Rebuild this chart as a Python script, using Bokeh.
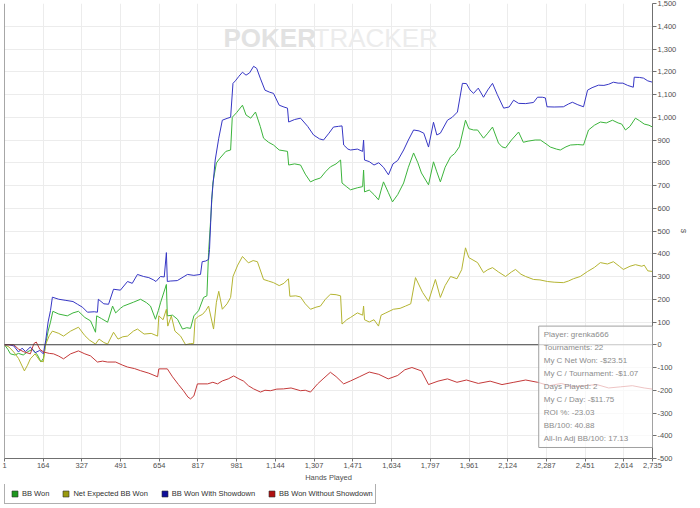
from bokeh.plotting import figure
from bokeh.layouts import column
from bokeh.models import (Range1d, FixedTicker, NumeralTickFormatter, Span,
                          Legend, LegendItem, Label)
from bokeh.embed import file_html
from bokeh.resources import INLINE

# ---------------- data ----------------
x_ticks = [1, 164, 327, 491, 654, 817, 981, 1144, 1307, 1471, 1634, 1797, 1961, 2124,
           2287, 2451, 2614, 2735]
y_ticks = list(range(-500, 1501, 100))

series_names = ["BB Won", "Net Expected BB Won", "BB Won With Showdown", "BB Won Without Showdown"]

blue_hands = [1, 20, 40, 60, 75, 90, 110, 130, 150, 165, 175, 185, 195, 203, 230, 260, 290, 309, 330,
              351, 380, 393, 397, 420, 440, 461, 490, 520, 540, 562, 588, 610, 630, 640, 659, 675, 684,
              688, 700, 730, 773, 800, 828, 835, 850, 862, 866, 875, 890, 905, 920, 940, 955, 965, 975,
              990, 1005, 1020, 1035, 1052, 1065, 1080, 1100, 1120, 1136, 1160, 1180, 1195, 1200, 1225,
              1250, 1280, 1305, 1330, 1347, 1370, 1389, 1410, 1425, 1432, 1450, 1461, 1490, 1512, 1516,
              1520, 1540, 1560, 1580, 1600, 1621, 1640, 1660, 1685, 1705, 1727, 1750, 1770, 1790, 1811,
              1825, 1840, 1870, 1890, 1912, 1933, 1950, 1965, 1980, 2000, 2022, 2040, 2060, 2080, 2107,
              2130, 2149, 2170, 2200, 2233, 2250, 2270, 2283, 2290, 2320, 2359, 2380, 2397, 2420, 2444,
              2461, 2480, 2507, 2530, 2550, 2570, 2590, 2610, 2630, 2654, 2658, 2680, 2697, 2715, 2735]
blue_vals = [0, 0, -5, -32, -15, -30, -10, -35, -25, -40, 20, 100, 150, 209, 200, 195, 190, 178, 165,
             143, 145, 143, 200, 180, 178, 244, 240, 278, 270, 309, 300, 295, 285, 278, 300, 298, 405,
             278, 280, 282, 309, 305, 309, 365, 368, 375, 419, 637, 812, 908, 987, 995, 1000, 1149, 1160,
             1180, 1198, 1185, 1195, 1224, 1215, 1172, 1119, 1110, 1105, 1053, 1045, 1040, 979, 990,
             996, 960, 922, 905, 900, 930, 957, 960, 962, 878, 860, 856, 860, 850, 900,
             812, 805, 790, 800, 780, 747, 795, 810, 856, 900, 944, 940, 930, 869, 978,
             922, 930, 987, 1000, 1023, 1149, 1148, 1120, 1105, 1128, 1088, 1120, 1149, 1100, 1040,
             1045, 1075, 1061, 1060, 1065, 1088, 1088, 1085, 1046, 1045, 1046, 1058, 1066, 1055, 1046,
             1119, 1130, 1141, 1140, 1145, 1154, 1150, 1150, 1140, 1132, 1176, 1175, 1172, 1160, 1154]

green_hands = [1, 15, 26, 45, 60, 80, 100, 120, 140, 155, 165, 174, 185, 195, 205, 230, 266, 290, 313,
               340, 364, 385, 390, 410, 436, 457, 470, 490, 503, 545, 575, 600, 617, 638, 650, 660, 684,
               688, 710, 731, 752, 770, 786, 800, 820, 841, 855, 862, 870, 880, 895, 910, 935, 955, 962,
               980, 1005, 1020, 1040, 1060, 1080, 1094, 1115, 1136, 1160, 1195, 1200, 1225, 1250, 1270,
               1292, 1310, 1334, 1355, 1376, 1400, 1419, 1425, 1445, 1461, 1490, 1512, 1516, 1520, 1540,
               1560, 1579, 1590, 1600, 1620, 1638, 1660, 1685, 1705, 1727, 1745, 1760, 1790, 1811, 1825,
               1840, 1860, 1883, 1900, 1920, 1946, 1960, 1980, 1997, 2022, 2040, 2060, 2085, 2100, 2115,
               2140, 2170, 2190, 2210, 2240, 2262, 2290, 2304, 2330, 2346, 2370, 2389, 2420, 2444, 2465,
               2490, 2515, 2540, 2566, 2590, 2605, 2621, 2640, 2663, 2680, 2700, 2720, 2735]
green_vals = [0, -20, -40, -45, -38, -45, -30, -20, -45, -76, -60, 0, 60, 99, 147, 135, 127, 140, 147,
              120, 105, 55, 127, 115, 99, 170, 140, 160, 170, 187, 200, 185, 170, 112, 150, 187, 265,
              127, 130, 112, 69, 75, 72, 127, 150, 208, 215, 405, 536, 711, 799, 820, 850, 856, 1000,
              1020, 1053, 1010, 996, 1023, 960, 908, 890, 878, 856, 850, 790, 795, 790, 750,
              716, 725, 733, 760, 782, 795, 812, 711, 694, 681, 690, 695, 768, 672, 680,
              660, 637, 680, 716, 670, 628, 660, 711, 780, 843, 800, 755, 703, 804, 760,
              716, 780, 826, 840, 870, 987, 950, 944, 944, 908, 930, 957, 887, 870, 865,
              900, 935, 890, 895, 900, 900, 880, 869, 860, 856, 870, 878, 880, 878, 944,
              965, 979, 975, 987, 975, 970, 944, 960, 996, 985, 970, 965, 957]

yellow_hands = [1, 20, 40, 60, 85, 98, 110, 130, 150, 165, 174, 190, 203, 230, 250, 280, 313, 340, 360,
                385, 400, 420, 436, 461, 480, 500, 520, 545, 562, 590, 620, 647, 652, 670, 684, 690, 705,
                720, 744, 765, 785, 799, 805, 820, 837, 850, 862, 883, 895, 905, 920, 940, 955, 965, 985,
                1005, 1030, 1050, 1068, 1094, 1115, 1136, 1160, 1180, 1199, 1205, 1230, 1250, 1270, 1292,
                1315, 1334, 1355, 1376, 1400, 1419, 1425, 1445, 1461, 1490, 1512, 1516, 1520, 1540, 1560,
                1579, 1590, 1610, 1642, 1670, 1693, 1715, 1735, 1765, 1790, 1819, 1840, 1860, 1883, 1910,
                1930, 1946, 1960, 1997, 2022, 2040, 2060, 2085, 2115, 2140, 2157, 2180, 2200, 2233, 2260,
                2292, 2320, 2359, 2380, 2401, 2430, 2461, 2490, 2515, 2545, 2570, 2595, 2612, 2640, 2663,
                2690, 2700, 2715, 2735]
yellow_vals = [0, -10, -32, -60, -115, -90, -62, -40, -70, -75, 0, 40, 60, 50, 38, 60, 77, 40, 20,
               3, 25, 10, 3, 55, 25, 35, 38, 60, 69, 47, 50, 38, 127, 110, 156, 82, 127,
               60, 38, 0, 5, 5, 112, 125, 134, 150, 170, 69, 187, 235, 156, 180, 208, 300, 350,
               388, 360, 370, 365, 287, 280, 273, 260, 270, 290, 213, 215, 210, 180, 156,
               165, 170, 200, 222, 220, 215, 91, 110, 120, 140, 130, 170, 110, 100, 110,
               82, 130, 140, 156, 160, 170, 180, 295, 230, 191, 287, 208, 260, 300, 290,
               330, 426, 383, 361, 317, 330, 339, 320, 300, 320, 331, 310, 300, 287, 285,
               278, 275, 273, 280, 290, 300, 322, 340, 361, 355, 365, 345, 331, 345, 352,
               345, 350, 325, 322]

red_hands = [1, 40, 60, 80, 110, 125, 135, 150, 166, 190, 208, 230, 250, 280, 313, 340, 364, 393, 415,
             436, 470, 500, 520, 550, 575, 610, 647, 652, 688, 710, 735, 756, 775, 786, 800, 815, 858,
             880, 900, 920, 945, 968, 990, 1010, 1030, 1052, 1081, 1100, 1123, 1150, 1178, 1210, 1250,
             1270, 1292, 1322, 1345, 1376, 1400, 1432, 1461, 1500, 1540, 1580, 1620, 1660, 1690, 1720,
             1760, 1790, 1830, 1870, 1910, 1950, 2000, 2050, 2100, 2150, 2200, 2250, 2300, 2350, 2400,
             2450, 2500, 2550, 2600, 2650, 2700, 2735]
red_vals = [0, 0, -19, -30, -40, 5, 12, -20, -32, -38, -40, -50, -62, -40, -27, -40, -49, -76, -72,
            -76, -76, -90, -98, -105, -114, -125, -141, -106, -106, -141, -175, -202, -230, -238, -225,
            -172, -172, -165, -172, -159, -150, -137, -150, -160, -180, -194, -208, -200, -202, -195,
            -194, -190, -202, -200, -208, -172, -150, -121, -140, -172, -159, -140, -120, -130, -150,
            -135, -110, -100, -115, -175, -160, -150, -165, -155, -170, -160, -175, -165, -155, -165,
            -180, -170, -185, -180, -175, -190, -185, -180, -190, -195]

stats_lines = ["Player: grenka666", "Tournaments: 22", "My C Net Won: -$23.51",
               "My C / Tournament: -$1.07", "Days Played: 2", "My C / Day: -$11.75",
               "ROI %: -23.03", "BB/100: 40.88", "All-In Adj BB/100: 17.13"]

# ---------------- styles ----------------
line_colors = {"green": "#3cb43c", "yellow": "#b4b432", "blue": "#3636c4", "red": "#c43a3a"}
legend_colors = ["#1e961e", "#9a9a10", "#10109a", "#b01010"]
FONT = "Liberation Sans"

p = figure(width=700, height=484, output_backend="svg", toolbar_location=None,
           x_range=Range1d(1, 2735), y_range=Range1d(-500, 1500),
           y_axis_location="right", min_border_left=4, min_border_top=3,
           min_border_right=48, min_border_bottom=24, outline_line_color=None,
           background_fill_color="white", border_fill_color="white")

# grid
for g in (p.xgrid, p.ygrid):
    g.grid_line_color = "#ececec"
    g.grid_line_width = 1
p.xgrid.ticker = FixedTicker(ticks=x_ticks)
p.ygrid.ticker = FixedTicker(ticks=y_ticks)

# axes
xa = p.xaxis[0]
xa.ticker = FixedTicker(ticks=x_ticks)
xa.formatter = NumeralTickFormatter(format="0,0")
xa.axis_label = "Hands Played"
ya = p.yaxis[0]
ya.ticker = FixedTicker(ticks=y_ticks)
ya.formatter = NumeralTickFormatter(format="0,0")
ya.axis_label = "$"
for ax in (xa, ya):
    ax.axis_line_color = "#707070"
    ax.major_tick_line_color = "#707070"
    ax.major_tick_in = 0
    ax.major_tick_out = 3
    ax.minor_tick_line_color = None
    ax.major_label_text_font = FONT
    ax.major_label_text_font_size = "7.5px"
    ax.major_label_text_color = "#505050"
    ax.major_label_standoff = 1
    ax.axis_label_text_font = FONT
    ax.axis_label_text_font_size = "7.5px"
    ax.axis_label_text_font_style = "normal"
    ax.axis_label_text_color = "#505050"
    ax.axis_label_standoff = 2
ya.major_tick_out = 4
ya.axis_label_standoff = 0

# frame left edge and zero line
p.add_layout(Span(location=1, dimension="height", line_color="#505050", line_width=1))
p.add_layout(Span(location=0, dimension="width", line_color="#404040", line_width=1))

# watermark
p.add_layout(Label(x=925, y=1282, text="POKER", text_font=FONT, text_font_size="26px",
                   text_font_style="bold", text_color="#e2e2e2", level="underlay"))
p.add_layout(Label(x=1305, y=1282, text="TRACKER", text_font=FONT, text_font_size="26px",
                   text_color="#ececec", level="underlay"))

# series
p.line(green_hands, green_vals, line_color=line_colors["green"], line_width=1)
p.line(yellow_hands, yellow_vals, line_color=line_colors["yellow"], line_width=1)
p.line(blue_hands, blue_vals, line_color=line_colors["blue"], line_width=1)
p.line(red_hands, red_vals, line_color=line_colors["red"], line_width=1)

# stats box
p.add_layout(Label(x=2255, y=82, anchor="top_left", text="\n".join(stats_lines),
                   text_font=FONT, text_font_size="8px", text_color="#8c8c8c",
                   text_line_height=1.45, background_fill_color="white", background_fill_alpha=0.7,
                   border_line_color="#a0a0a0", border_line_width=1,
                   padding=dict(left=5, right=20, top=4, bottom=4)))

# ---------------- legend strip ----------------
lp = figure(width=700, height=24, output_backend="svg", toolbar_location=None,
            x_range=Range1d(0, 1), y_range=Range1d(0, 1), x_axis_type=None, y_axis_type=None,
            min_border=0, outline_line_color=None, background_fill_color="white",
            border_fill_color="white")
lp.xgrid.visible = False
lp.ygrid.visible = False
nan = float("nan")
swatches = [lp.scatter([nan], [nan], marker="square", size=10, fill_color=c, line_color="#303030",
                       line_width=0.6) for c in legend_colors]
legend = Legend(items=[LegendItem(label=n, renderers=[s], index=0)
                       for n, s in zip(series_names, swatches)],
                orientation="horizontal", location=(0, 4), margin=0, padding=2, spacing=9,
                label_standoff=0, glyph_width=15, glyph_height=15, label_height=9, label_width=10,
                label_text_font=FONT, label_text_font_size="7.5px", label_text_color="#303030",
                border_line_color="#606060", border_line_width=1, background_fill_color="white",
                background_fill_alpha=1)
lp.add_layout(legend, "center")

layout = column(p, lp, spacing=0)
open("out.html", "w").write(file_html(layout, INLINE))
